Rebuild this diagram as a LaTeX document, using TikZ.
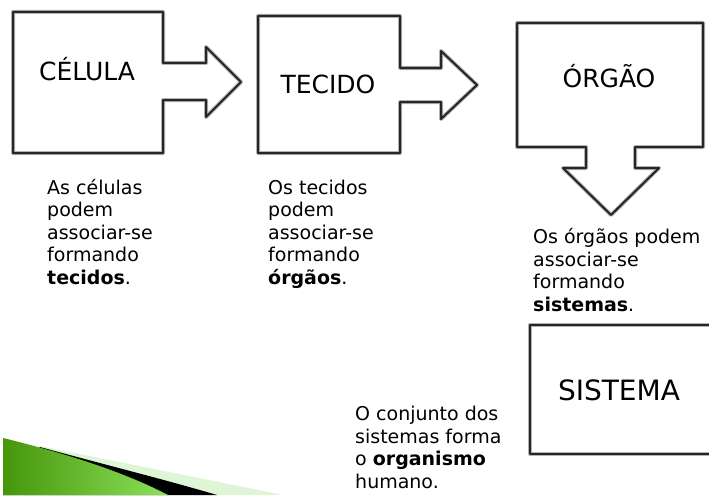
\documentclass[tikz,border=0pt]{standalone}
\usepackage{fontspec}
\setmainfont{DejaVu Sans}
\usepackage{tikz}
\usetikzlibrary{positioning}

\definecolor{palegreen}{RGB}{222,245,214}
\definecolor{darkleaf}{RGB}{70,150,10}
\definecolor{lightleaf}{RGB}{140,225,90}

\begin{document}
\begin{tikzpicture}[x=1pt,y=-1pt,
    box line/.style={fill=white,draw=gray!60,line width=4pt,line join=round,
      postaction={draw=black!85,line width=2pt,line join=round}},
    title node/.style={font=\fontsize{25}{30}\selectfont,inner sep=0pt,anchor=base},
    text node/.style={font=\fontsize{19}{22.5}\selectfont,align=left,inner sep=0pt,anchor=base west}]
   \useasboundingbox[fill=white] (0,0) rectangle (709,495);
   % corner swoosh
   \fill[palegreen] (40,446) -- (283,495) -- (3,495) -- cycle;
   \fill[black] (40,447) .. controls (110,466) and (170,481) .. (217,495) -- (3,495) -- cycle;
   \shade[left color=darkleaf,right color=lightleaf] (3,438) .. controls (60,452) and (120,470) .. (168,495) -- (3,495) -- cycle;
   % boxes with arrows
   \path[box line] (13,12) -- (163,12) -- (163,63) -- (206,63) -- (206,47) -- (241,82)
      -- (206,117) -- (206,100) -- (163,100) -- (163,153) -- (13,153) -- cycle;
   \path[box line] (258,16) -- (400,16) -- (400,68) -- (441,68) -- (441,51) -- (477,85)
      -- (441,119) -- (441,102) -- (400,102) -- (400,153) -- (258,153) -- cycle;
   \path[box line] (517,23) -- (703,23) -- (703,147) -- (635,147) -- (635,168) -- (659,168)
      -- (611,215) -- (563,168) -- (586,168) -- (586,147) -- (517,147) -- cycle;
   \path[box line] (530,325) rectangle (714,454);
   % titles
   \node[title node] (cel) at (87,80) {CÉLULA};
   \node[title node] (tec) at (328,93) {TECIDO};
   \node[title node] (org) at (609,88) {ÓRGÃO};
   \node[title node,font=\fontsize{28}{34}\selectfont] (sis) at (619,400) {SISTEMA};
   % texts (anchored on the last line)
   \node[text node] (t1) at (47,284) {As células\\podem\\associar-se\\formando\\\textbf{tecidos}.};
   \node[text node] (t2) at (268,284) {Os tecidos\\podem\\associar-se\\formando\\\textbf{órgãos}.};
   \node[text node] (t3) at (533,311) {Os órgãos podem\\associar-se\\formando\\\textbf{sistemas}.};
   \node[text node] (t4) at (355,488) {O conjunto dos\\sistemas forma\\o \textbf{organismo}\\humano.};
\end{tikzpicture}
\end{document}
